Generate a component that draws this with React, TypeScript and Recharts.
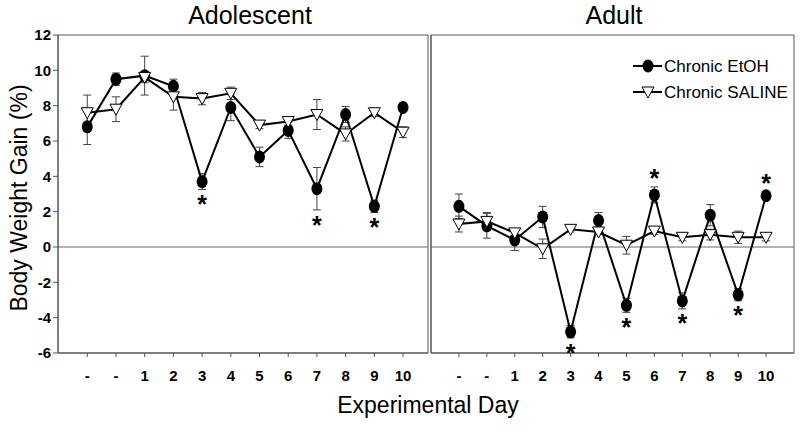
import React from "react";
import {
  ComposedChart,
  Line,
  Scatter,
  XAxis,
  YAxis,
  ErrorBar,
  ReferenceLine,
  ReferenceArea,
} from "recharts";

const days = ["-", "-", "1", "2", "3", "4", "5", "6", "7", "8", "9", "10"];
const yTicks = [-6, -4, -2, 0, 2, 4, 6, 8, 10, 12];

// Adolescent panel
const adolEtoh = [6.8, 9.5, 9.7, 9.1, 3.7, 7.9, 5.1, 6.6, 3.3, 7.5, 2.3, 7.9];
const adolEtohErr = [1.0, 0.35, 1.1, 0.4, 0.45, 0.75, 0.55, 0.45, 1.2, 0.45, 0.35, 0.2];
const adolSaline = [7.6, 7.8, 9.6, 8.5, 8.4, 8.7, 6.9, 7.1, 7.5, 6.4, 7.6, 6.5];
const adolSalineErr = [1.0, 0.7, 0.3, 0.75, 0.35, 0.35, 0.2, 0.2, 0.85, 0.4, 0.2, 0.3];
const adolSig = ["", "", "", "", "below", "", "", "", "below", "", "below", ""];

// Adult panel
const adultEtoh = [2.3, 1.2, 0.4, 1.7, -4.8, 1.5, -3.3, 2.95, -3.05, 1.8, -2.7, 2.9];
const adultEtohErr = [0.7, 0.7, 0.6, 0.6, 0.35, 0.45, 0.4, 0.45, 0.45, 0.6, 0.35, 0.2];
const adultSaline = [1.3, 1.45, 0.8, -0.1, 1.0, 0.85, 0.1, 0.9, 0.55, 0.7, 0.55, 0.55];
const adultSalineErr = [0.45, 0.5, 0.2, 0.55, 0.15, 0.15, 0.5, 0.2, 0.2, 0.3, 0.35, 0.2];
const adultSig = ["", "", "", "", "below", "", "below", "above", "below", "", "below", "above"];

const FONT = "'Liberation Sans', Arial, Helvetica, sans-serif";
const AXIS = "#555";

function buildRows(etoh: number[], etohErr: number[], saline: number[], salineErr: number[]) {
  return days.map((d, i) => ({
    x: i,
    etoh: etoh[i],
    etohErr: etohErr[i],
    saline: saline[i],
    salineErr: salineErr[i],
  }));
}

function buildStars(etoh: number[], etohErr: number[], sig: string[]) {
  const out: { x: number; y: number }[] = [];
  sig.forEach((s, i) => {
    if (s === "below") out.push({ x: i, y: etoh[i] - etohErr[i] - 0.6 });
    if (s === "above") out.push({ x: i, y: etoh[i] + etohErr[i] + 0.75 });
  });
  return out;
}

const CircleDot = (props: any) => {
  const { cx, cy } = props;
  if (cx == null || cy == null) return null;
  return <ellipse key={props.key} cx={cx} cy={cy} rx={5.5} ry={6.5} fill="#000" />;
};

const TriDot = (props: any) => {
  const { cx, cy } = props;
  if (cx == null || cy == null) return null;
  return (
    <path
      key={props.key}
      d={`M${cx - 6},${cy - 5} L${cx + 6},${cy - 5} L${cx},${cy + 6} Z`}
      fill="#fff"
      stroke="#000"
      strokeWidth={1}
    />
  );
};

const Star = (props: any) => {
  const { cx, cy } = props;
  if (cx == null || cy == null) return null;
  return (
    <text x={cx} y={cy + 13} textAnchor="middle" fontSize={25} fontWeight="bold" fontFamily={FONT} fill="#000">
      *
    </text>
  );
};

interface PanelProps {
  width: number;
  left: number;
  xDomain: [number, number];
  rows: ReturnType<typeof buildRows>;
  stars: { x: number; y: number }[];
  showYTicks: boolean;
}

function Panel({ width, left, xDomain, rows, stars, showYTicks }: PanelProps) {
  return (
    <div style={{ position: "absolute", left, top: 0 }}>
      <ComposedChart
        width={width}
        height={383}
        data={rows}
        margin={{ top: 35, right: 2, bottom: 0, left: 0 }}
      >
        <XAxis
          dataKey="x"
          type="number"
          domain={xDomain}
          ticks={days.map((_, i) => i)}
          interval={0}
          tickFormatter={(v: number) => days[v] ?? ""}
          height={30}
          tickSize={4}
          tickMargin={13}
          axisLine={{ stroke: AXIS }}
          tickLine={{ stroke: AXIS }}
          tick={{ fill: "#000", fontSize: 15, fontWeight: "bold", fontFamily: FONT }}
          allowDataOverflow
        />
        <YAxis
          type="number"
          domain={[-6, 12]}
          ticks={yTicks}
          interval={0}
          width={showYTicks ? 58 : 1}
          tick={showYTicks ? { fill: "#000", fontSize: 15, fontWeight: "bold", fontFamily: FONT } : false}
          tickLine={showYTicks ? { stroke: AXIS } : false}
          tickSize={5}
          axisLine={{ stroke: AXIS }}
          allowDataOverflow
        />
        <ReferenceArea
          x1={xDomain[0]}
          x2={xDomain[1]}
          y1={-6}
          y2={12}
          fill="none"
          stroke={AXIS}
          strokeWidth={1}
        />
        <ReferenceLine y={0} stroke="#666" strokeWidth={1} />
        <Line
          dataKey="etoh"
          stroke="#000"
          strokeWidth={2}
          dot={CircleDot}
          activeDot={false}
          isAnimationActive={false}
        >
          <ErrorBar dataKey="etohErr" direction="y" width={4} stroke="#444" strokeWidth={1} />
        </Line>
        <Line
          dataKey="saline"
          stroke="#000"
          strokeWidth={2}
          dot={TriDot}
          activeDot={false}
          isAnimationActive={false}
        >
          <ErrorBar dataKey="salineErr" direction="y" width={4} stroke="#444" strokeWidth={1} />
        </Line>
        <Scatter data={stars} dataKey="y" shape={Star} isAnimationActive={false} />
      </ComposedChart>
    </div>
  );
}

export default function App() {
  const adolRows = buildRows(adolEtoh, adolEtohErr, adolSaline, adolSalineErr);
  const adultRows = buildRows(adultEtoh, adultEtohErr, adultSaline, adultSalineErr);
  const adolStars = buildStars(adolEtoh, adolEtohErr, adolSig);
  const adultStars = buildStars(adultEtoh, adultEtohErr, adultSig);

  return (
    <div
      style={{
        position: "absolute",
        left: 0,
        top: 0,
        width: 800,
        height: 436,
        background: "#fff",
        fontFamily: FONT,
      }}
    >
      <Panel width={430} left={0} xDomain={[-1.02, 11.87]} rows={adolRows} stars={adolStars} showYTicks />
      <Panel width={366} left={430} xDomain={[-1, 12]} rows={adultRows} stars={adultStars} showYTicks={false} />
      <svg
        width={800}
        height={436}
        style={{ position: "absolute", left: 0, top: 0, pointerEvents: "none" }}
        fontFamily={FONT}
      >
        <text x={250} y={24} textAnchor="middle" fontSize={25} fill="#000">
          Adolescent
        </text>
        <text x={614} y={24} textAnchor="middle" fontSize={25} fill="#000">
          Adult
        </text>
        <text
          x={0}
          y={0}
          transform="translate(27,198) rotate(-90)"
          textAnchor="middle"
          fontSize={23}
          fill="#000"
        >
          Body Weight Gain (%)
        </text>
        <text x={428} y={413} textAnchor="middle" fontSize={23} fill="#000">
          Experimental Day
        </text>
        {/* legend */}
        <line x1={633} x2={662} y1={66} y2={66} stroke="#000" strokeWidth={2} />
        <ellipse cx={648} cy={66} rx={5.5} ry={6.5} fill="#000" />
        <text x={664} y={72} fontSize={17} fill="#000">
          Chronic EtOH
        </text>
        <line x1={633} x2={662} y1={92} y2={92} stroke="#000" strokeWidth={2} />
        <path d="M642,87 L654,87 L648,98 Z" fill="#fff" stroke="#000" strokeWidth={1} />
        <text x={664} y={98} fontSize={17} fill="#000">
          Chronic SALINE
        </text>
      </svg>
    </div>
  );
}
